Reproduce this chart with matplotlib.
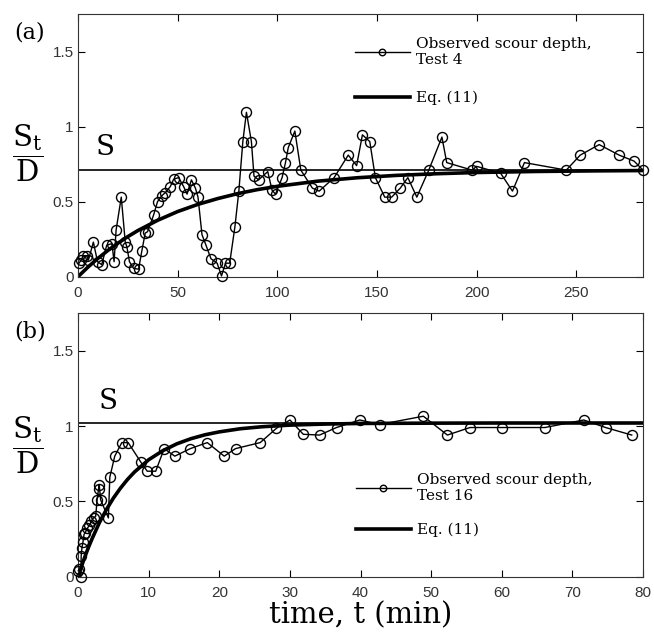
import matplotlib
matplotlib.use("Agg")
import matplotlib.pyplot as plt

plt.rcParams['font.family'] = ['DejaVu Serif']
plt.rcParams['mathtext.fontset'] = 'dejavuserif'

# (a) Test 4 observed scour depth
t_a = [0.5, 1.5, 2.7, 4.4, 5.2, 7.7, 9.8, 11.9, 14.4, 17.0, 18.1, 19.1, 21.7, 23.7,
       24.5, 25.8, 27.9, 30.4, 32.0, 33.7, 34.9, 37.9, 39.9, 42.1, 43.8, 46.3, 48.0,
       50.5, 53.0, 54.7, 56.9, 58.9, 60.2, 62.2, 64.2, 66.7, 69.8, 72.0, 74.0, 76.1,
       78.7, 80.7, 82.7, 84.5, 87.0, 88.3, 90.6, 95.2, 97.4, 99.1, 102.4, 104.1,
       105.5, 108.8, 111.8, 117.6, 121.0, 128.5, 135.6, 139.8, 142.7, 146.4, 149.2,
       153.9, 157.4, 161.7, 165.5, 170.0, 176.0, 182.6, 185.0, 197.7, 200.0, 212.0,
       218.0, 224.0, 245.0, 252.0, 261.5, 271.5, 279.0, 283.5]
d_a = [0.09, 0.11, 0.14, 0.14, 0.11, 0.23, 0.10, 0.08, 0.21, 0.22, 0.10, 0.31, 0.53, 0.23,
       0.20, 0.10, 0.055, 0.05, 0.17, 0.29, 0.30, 0.41, 0.50, 0.54, 0.56, 0.60, 0.65,
       0.66, 0.60, 0.55, 0.645, 0.59, 0.53, 0.28, 0.21, 0.12, 0.09, 0.005, 0.09, 0.09,
       0.33, 0.57, 0.90, 1.095, 0.90, 0.67, 0.645, 0.70, 0.575, 0.55, 0.66, 0.76,
       0.86, 0.97, 0.71, 0.59, 0.57, 0.66, 0.81, 0.74, 0.945, 0.90, 0.66,
       0.53, 0.53, 0.59, 0.66, 0.53, 0.71, 0.93, 0.76, 0.71, 0.735, 0.69,
       0.57, 0.76, 0.71, 0.81, 0.88, 0.81, 0.77, 0.71]

# (a) Eq. (11) curve
te_a = [0, 5, 10, 15, 20, 25, 30, 40, 50, 60, 70, 80, 90, 100, 120, 140, 160, 180,
        200, 230, 260, 283.5]
de_a = [0, 0.064, 0.122, 0.175, 0.223, 0.267, 0.307, 0.376, 0.434, 0.481, 0.520,
        0.553, 0.580, 0.602, 0.636, 0.659, 0.675, 0.686, 0.694, 0.701, 0.705, 0.707]
S_a = 0.71

# (b) Test 16 observed scour depth
t_b = [0.05, 0.2, 0.4, 0.45, 0.55, 0.7, 0.85, 1.0, 1.3, 1.6, 1.9, 2.2, 2.5, 2.7, 2.9,
       3.0, 3.2, 4.3, 4.5, 5.2, 6.2, 7.1, 8.9, 9.8, 11.0, 12.2, 13.7, 15.9, 18.3, 20.7,
       22.3, 25.8, 28.1, 30.0, 31.9, 34.2, 36.6, 39.9, 42.7, 48.9, 52.3, 55.5, 60.0,
       66.1, 71.6, 74.7, 78.4]
d_b = [0.04, 0.05, 0.0, 0.14, 0.19, 0.23, 0.28, 0.29, 0.32, 0.34, 0.37, 0.39, 0.40, 0.51,
       0.58, 0.61, 0.51, 0.39, 0.66, 0.80, 0.89, 0.89, 0.76, 0.70, 0.70, 0.85, 0.80,
       0.85, 0.89, 0.80, 0.85, 0.89, 0.985, 1.04, 0.945, 0.94, 0.99, 1.04, 1.01, 1.065,
       0.94, 0.99, 0.99, 0.99, 1.04, 0.99, 0.94]

# (b) Eq. (11) curve
te_b = [0, 0.5, 1, 1.5, 2, 3, 4, 5, 6, 7, 8, 10, 12, 14, 16, 18, 20, 23, 26, 30, 35,
        40, 50, 60, 80]
de_b = [0, 0.070, 0.136, 0.197, 0.253, 0.356, 0.444, 0.521, 0.587, 0.645, 0.695,
        0.776, 0.836, 0.882, 0.916, 0.942, 0.961, 0.982, 0.995, 1.006, 1.013, 1.017,
        1.019, 1.020, 1.020]
S_b = 1.02

fig = plt.figure(figsize=(6.54, 6.34), dpi=100)
ax1 = fig.add_axes([0.1193, 0.5636, 0.8639, 0.4143])
ax2 = fig.add_axes([0.1193, 0.0904, 0.8639, 0.4159])

panels = [
    (ax1, t_a, d_a, te_a, de_a, S_a, (0, 283.5), range(0, 300, 50), 'Test 4', '(a)',
     (0.49, 0.912), 0.47, (13.7, 0.86), 1.55),
    (ax2, t_b, d_b, te_b, de_b, S_b, (0, 80), range(0, 90, 10), 'Test 16', '(b)',
     (0.492, 0.395), 0.50, (4.2, 1.165), 1.3),
]

for ax, t, d, te, de, S, xl, xt, test, tag, legpos, ylab_y, spos, lsp in panels:
    ax.axhline(S, color='black', lw=1.2, zorder=1)
    obs, = ax.plot(t, d, '-o', color='black', lw=1.0, ms=7.2, mfc='none', mew=1.0,
                   label='Observed scour depth,\n' + test, clip_on=False, zorder=3)
    eq, = ax.plot(te, de, color='black', lw=2.6, label='Eq. (11)', zorder=2)
    ax.set_xlim(*xl)
    ax.set_ylim(0, 1.75)
    ax.set_xticks(list(xt))
    ax.set_yticks([0, 0.5, 1, 1.5])
    ax.set_yticklabels(['0', '0.5', '1', '1.5'])
    ax.tick_params(direction='in', top=True, right=True, length=5, width=0.8,
                   labelsize=11, labelcolor='#333333', pad=3)
    ax.tick_params(axis='x', pad=7)
    for lab in ax.get_xticklabels() + ax.get_yticklabels():
        lab.set_family('Liberation Sans')
    for sp in ax.spines.values():
        sp.set_linewidth(0.8)
        sp.set_color('#333333')
    ax.text(spos[0], spos[1], 'S', fontsize=20, ha='center', va='center')
    ax.text(-0.0885, ylab_y, r'$\dfrac{\mathrm{S_t}}{\mathrm{D}}$', fontsize=21,
            ha='center', va='center', transform=ax.transAxes)
    ax.text(-0.085, 0.93, tag, fontsize=16, ha='center', va='center',
            transform=ax.transAxes)
    ax.legend(handles=[obs, eq], loc='upper left', bbox_to_anchor=legpos,
              frameon=False, fontsize=11, handlelength=3.6, handletextpad=0.4,
              borderpad=0, borderaxespad=0, labelspacing=lsp, markerscale=0.65)

ax2.set_xlabel('time, t (min)', fontsize=21, labelpad=1)

fig.savefig('out.png', dpi=100)
